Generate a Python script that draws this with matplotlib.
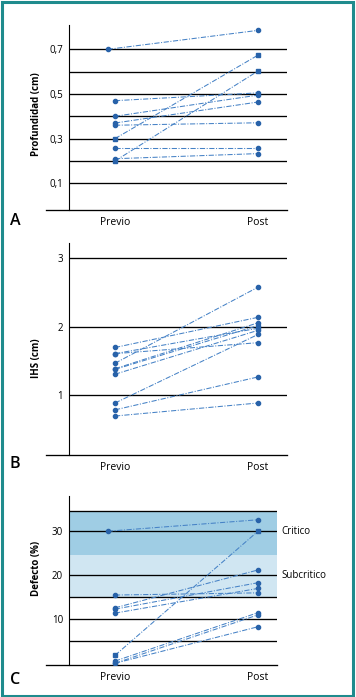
import matplotlib
matplotlib.use("Agg")
import matplotlib.pyplot as plt
from matplotlib.lines import Line2D
from matplotlib.patches import Rectangle

plt.rcParams['font.family'] = ['Open Sans', 'DejaVu Sans']

# data
groups = ["Previo", "Post"]

prof_previo = [0.70, 0.47, 0.40, 0.37, 0.36, 0.30, 0.26, 0.21, 0.20]
prof_post = [0.785, 0.505, 0.495, 0.464, 0.371, 0.674, 0.26, 0.233, 0.603]
prof_grid = [0.1, 0.2, 0.3, 0.4, 0.5, 0.6, 0.7]
prof_ticks = [0.1, 0.3, 0.5, 0.7]

ihs_previo = [1.70, 1.61, 1.61, 1.47, 1.39, 1.38, 1.31, 0.89, 0.79, 0.70]
ihs_post = [2.14, 1.77, 1.98, 2.58, 2.06, 2.02, 1.95, 1.89, 1.27, 0.89]
ihs_grid = [1, 2, 3]
ihs_ticks = [1, 2, 3]

def_previo = [30, 15.5, 12.6, 12.3, 11.4, 1.8, 0.5, 0.0, 0.0]
def_post = [32.6, 16.0, 21.2, 18.3, 17.0, 30.0, 11.5, 11.0, 8.3]
def_grid = [5, 10, 15, 20, 30, 34.5]
def_ticks = [10, 20, 30]
zonas = ["Critico", "Subcritico"]
zona_limites = [(24.5, 34.5), (15, 24.5)]
zona_label_y = [30, 20]

# styling
W, H = 356, 697
line_col = '#4682c6'
mark_col = '#2862a9'
teal = '#1f8b8d'
zona_cols = ['#9fcde4', '#d0e6f2']

fig = plt.figure(figsize=(W / 100, H / 100), dpi=100)
fig.patch.set_facecolor('white')


def make_axes(top, bottom, right, ylim, grid, ticks, fmt):
    left = 69
    ax = fig.add_axes([left / W, 1 - bottom / H, (right - left) / W, (bottom - top) / H])
    ax.set_xlim(-46 / 143, (right - 115) / 143)
    ax.set_ylim(*ylim)
    for s in ['top', 'right', 'bottom']:
        ax.spines[s].set_visible(False)
    ax.spines['left'].set_linewidth(0.8)
    for g in grid:
        ax.axhline(g, color='black', lw=0.95, zorder=1)
    # bottom line sticks out to the left of the y axis
    ext = (46 - left) / (right - left)
    ax.add_line(Line2D([ext, 1], [0, 0], transform=ax.transAxes, color='black',
                       lw=0.95, clip_on=False))
    ax.set_yticks(ticks)
    ax.set_yticklabels([fmt(t) for t in ticks])
    ax.set_xticks([0, 1])
    ax.set_xticklabels(groups)
    ax.tick_params(axis='y', length=0, pad=4.3, labelsize=7)
    ax.tick_params(axis='x', length=0, pad=5, labelsize=7.5)
    return ax


def draw_pairs(ax, previo, post, square, shift_first=False):
    for i, (a, b) in enumerate(zip(previo, post)):
        x0 = -0.05 if (i == 0 and shift_first) else 0
        m = 's' if i in square else 'o'
        ax.plot([x0, 1], [a, b], lw=0.75, color=line_col, zorder=3,
                dashes=(5, 1.5, 1, 1.5))
        ax.plot([x0, 1], [a, b], ls='none', marker=m,
                ms=3.3 if m == 's' else 3.0, color=mark_col, zorder=4)


comma = lambda v: ("%.1f" % v).replace('.', ',')

# A
axA = make_axes(25, 210.3, 287, (-0.021, 0.809), prof_grid, prof_ticks, comma)
draw_pairs(axA, prof_previo, prof_post, [5, 8], shift_first=True)

# B
axB = make_axes(243.3, 455.3, 287, (0.127, 3.22), ihs_grid, ihs_ticks, lambda v: "%d" % v)
draw_pairs(axB, ihs_previo, ihs_post, [])

# C
axC = make_axes(496, 665, 277, (-0.39, 38.0), def_grid, def_ticks, lambda v: "%d" % v)
for (lo, hi), c in zip(zona_limites, zona_cols):
    axC.axhspan(lo, hi, color=c, lw=0, zorder=0)
for name, yv in zip(zonas, zona_label_y):
    axC.text(1.02, yv, name, transform=axC.get_yaxis_transform(), fontsize=7,
             va='center', ha='left')
draw_pairs(axC, def_previo, def_post, [5], shift_first=True)

# y labels and panel letters
for txt, yc in [("Profundidad (cm)", 114), ("IHS (cm)", 358), ("Defecto (%)", 568.5)]:
    fig.text(37 / W, 1 - yc / H, txt, rotation=90, fontsize=7, fontweight='bold',
             ha='center', va='center')
for letter, yc in [("A", 221), ("B", 464), ("C", 680)]:
    fig.text(15 / W, 1 - yc / H, letter, fontsize=11.5, fontweight='semibold',
             ha='center', va='center')

# teal frame
fig.add_artist(Rectangle((1.5 / W, 1.5 / H), 1 - 4.5 / W, 1 - 3 / H,
                         transform=fig.transFigure, fill=False, edgecolor=teal, lw=2.2))

fig.savefig("out.png", dpi=100)
